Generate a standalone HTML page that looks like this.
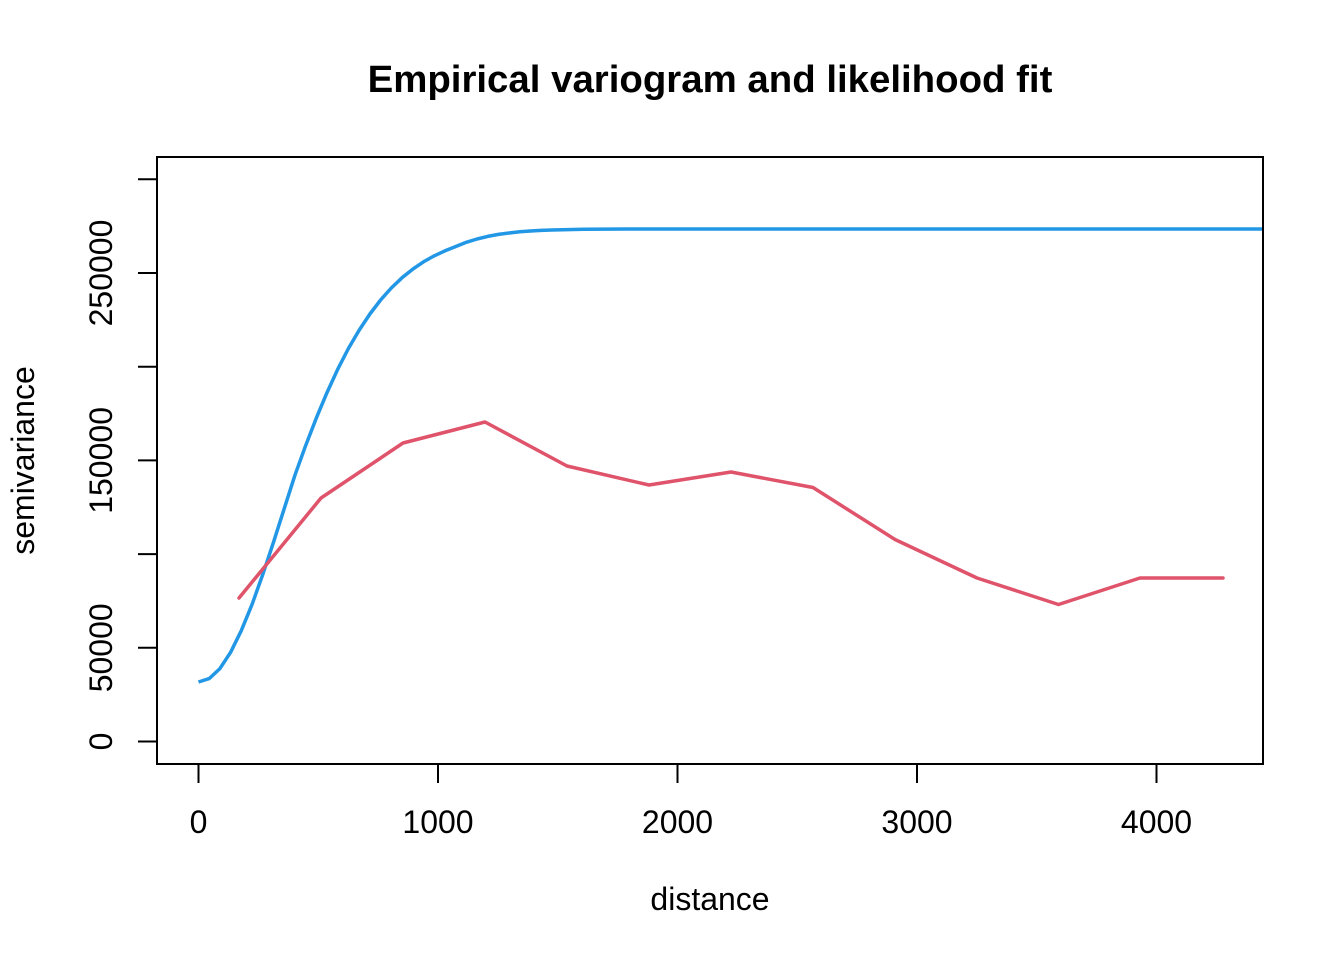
<!DOCTYPE html>
<html>
<head>
<meta charset="utf-8">
<style>
  html, body { margin: 0; padding: 0; background: #ffffff; }
  svg { display: block; }
  text { font-family: "Liberation Sans", Arial, sans-serif; fill: #000; }
</style>
</head>
<body>
<svg width="1344" height="960" viewBox="0 0 1344 960" xmlns="http://www.w3.org/2000/svg">
  <rect x="0" y="0" width="1344" height="960" fill="#ffffff"/>

  <!-- Title -->
  <text x="710" y="92" font-size="38.4" font-weight="bold" text-anchor="middle">Empirical variogram and likelihood fit</text>

  <!-- Series: fitted model (blue) -->
  <polyline fill="none" stroke="#2297E6" stroke-width="3.5" stroke-linejoin="round" stroke-linecap="butt"
    points="198.5,682.0 209.2,678.6 219.9,668.6 230.6,652.3 241.3,630.6 252.1,604.3 262.8,574.4 273.5,542.2 284.2,508.7 294.9,475.3 305.6,445.7 316.3,418.1 327.0,392.6 337.7,369.3 348.4,348.5 359.2,330.1 369.9,314.0 380.6,300.0 391.3,288.0 402.0,277.8 412.7,269.2 423.4,261.9 434.1,255.9 444.8,250.9 455.5,246.6 466.3,242.3 477.0,239.0 487.7,236.4 498.4,234.4 509.1,233.0 519.8,231.8 530.5,231.0 541.2,230.4 551.9,230.0 562.6,229.7 573.3,229.5 584.1,229.3 605.5,229.15 626.9,229.05 660,229.0 1263,229.0"/>

  <!-- Series: empirical variogram (red) -->
  <polyline fill="none" stroke="#DF536B" stroke-width="3.5" stroke-linejoin="round" stroke-linecap="round"
    points="239,598 321,498 403,443 485,422 567,466 649,485 731,472 813,487.5 895,539.5 977,578 1058.5,604.5 1140,578 1223,578"/>

  <!-- Plot box -->
  <rect x="157" y="157" width="1106" height="607" fill="none" stroke="#000" stroke-width="2"/>

  <!-- X axis ticks -->
  <g stroke="#000" stroke-width="2">
    <line x1="198.5" y1="764" x2="198.5" y2="783"/>
    <line x1="438" y1="764" x2="438" y2="783"/>
    <line x1="677.5" y1="764" x2="677.5" y2="783"/>
    <line x1="917" y1="764" x2="917" y2="783"/>
    <line x1="1156.5" y1="764" x2="1156.5" y2="783"/>
  </g>
  <g font-size="32" text-anchor="middle">
    <text x="198.5" y="833">0</text>
    <text x="438" y="833">1000</text>
    <text x="677.5" y="833">2000</text>
    <text x="917" y="833">3000</text>
    <text x="1156.5" y="833">4000</text>
  </g>

  <!-- Y axis ticks -->
  <g stroke="#000" stroke-width="2">
    <line x1="138" y1="741.5" x2="157" y2="741.5"/>
    <line x1="138" y1="647.8" x2="157" y2="647.8"/>
    <line x1="138" y1="554.1" x2="157" y2="554.1"/>
    <line x1="138" y1="460.4" x2="157" y2="460.4"/>
    <line x1="138" y1="366.7" x2="157" y2="366.7"/>
    <line x1="138" y1="273.0" x2="157" y2="273.0"/>
    <line x1="138" y1="179.3" x2="157" y2="179.3"/>
  </g>
  <g font-size="32" text-anchor="middle">
    <text transform="translate(112,741.5) rotate(-90)">0</text>
    <text transform="translate(112,647.8) rotate(-90)">50000</text>
    <text transform="translate(112,460.4) rotate(-90)">150000</text>
    <text transform="translate(112,273.0) rotate(-90)">250000</text>
  </g>

  <!-- Axis labels -->
  <text x="710" y="910" font-size="32" text-anchor="middle">distance</text>
  <text transform="translate(34,460.5) rotate(-90)" font-size="32" text-anchor="middle">semivariance</text>
</svg>
</body>
</html>
